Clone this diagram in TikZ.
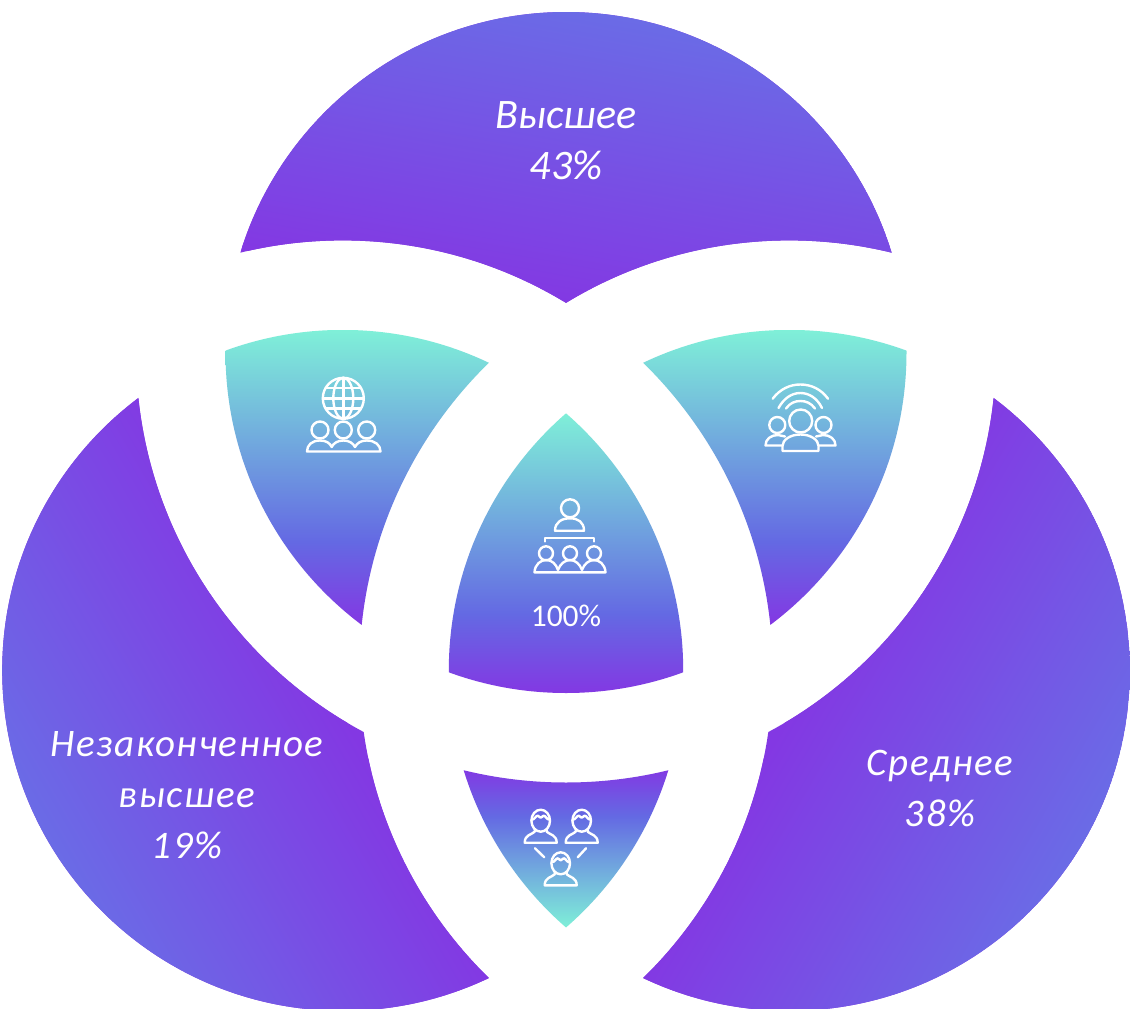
\documentclass[tikz,border=0pt]{standalone}
\usepackage{fontspec}
\setmainfont{Carlito}
\newfontfamily\spaced[LetterSpace=4]{Carlito}
\definecolor{pur}{HTML}{8338E3}
\definecolor{blu}{HTML}{6A6CE6}
\definecolor{blu2}{HTML}{6469E3}
\definecolor{teal1}{HTML}{7FF0D8}
\pgfdeclareverticalshading{tealtop}{100bp}{color(0bp)=(pur); color(25bp)=(pur); color(39bp)=(blu2); color(75bp)=(teal1); color(100bp)=(teal1)}
\pgfdeclareverticalshading{tealbot}{100bp}{color(0bp)=(teal1); color(25bp)=(teal1); color(60bp)=(blu2); color(75bp)=(pur); color(100bp)=(pur)}
\tikzset{
  icon/.style={draw=white,line width=2.4pt,line cap=round,line join=round},
  label/.style={text=white,align=center,inner sep=0pt},
  bigtext/.style={label,font=\fontsize{42}{51}\selectfont\itshape},
  lighttext/.style={label,font=\spaced\fontsize{39}{51}\selectfont\itshape},
}
\newcommand\outclip[1]{\clip (-300,-300) rectangle (1500,1400) (#1) circle[radius=430];}
\newcommand\hairperson[2]{%
  \draw[icon] (#1,#2) ellipse[x radius=9.3,y radius=11];
  \draw[icon] (#1-9,#2-1) .. controls (#1-6,#2-1) and (#1-5,#2-5) .. (#1-3,#2-5) .. controls (#1-2,#2-5) and (#1-1,#2-3) .. (#1,#2-3) .. controls (#1+1,#2-3) and (#1+2,#2-5) .. (#1+3,#2-5) .. controls (#1+5,#2-5) and (#1+6,#2-1) .. (#1+9,#2-1);
  \draw[icon] (#1-6,#2+9) -- (#1-6,#2+11) .. controls (#1-9,#2+14) and (#1-16,#2+14) .. (#1-16,#2+22) -- (#1+16,#2+22) .. controls (#1+16,#2+14) and (#1+9,#2+14) .. (#1+6,#2+11) -- (#1+6,#2+9);
}
\begin{document}
\begin{tikzpicture}[x=1pt,y=-1pt]
\useasboundingbox[fill=white] (0,0) rectangle (1130,1009);
\coordinate (T) at (566,352.5);
\coordinate (L) at (342.7,670.4);
\coordinate (R) at (789.3,670.4);
% top piece
\begin{scope}[even odd rule]
  \clip (T) circle[radius=340.5];
  \outclip{L}
  \outclip{R}
  \fill[pur] (T) circle[radius=341];
  \begin{scope}[transform canvas={shift={(T)},rotate=-10}]
    \shade[bottom color=pur,top color=blu] (-700,-45) rectangle (700,-345);
  \end{scope}
\end{scope}
% left piece
\begin{scope}[even odd rule]
  \clip (L) circle[radius=340.5];
  \outclip{T}
  \outclip{R}
  \fill[pur] (L) circle[radius=341];
  \begin{scope}[transform canvas={shift={(L)},rotate=120}]
    \shade[bottom color=pur,top color=blu] (-700,-22) rectangle (700,-345);
  \end{scope}
\end{scope}
% right piece
\begin{scope}[even odd rule]
  \clip (R) circle[radius=340.5];
  \outclip{T}
  \outclip{L}
  \fill[pur] (R) circle[radius=341];
  \begin{scope}[transform canvas={shift={(R)},rotate=-120}]
    \shade[bottom color=pur,top color=blu] (-700,-22) rectangle (700,-345);
  \end{scope}
\end{scope}
% upper left lens
\begin{scope}[even odd rule]
  \clip (L) circle[radius=340.5];
  \clip (T) circle[radius=340.5];
  \outclip{R}
  \shade[shading=tealtop] (150,330) rectangle (550,624);
\end{scope}
% upper right lens
\begin{scope}[even odd rule]
  \clip (R) circle[radius=340.5];
  \clip (T) circle[radius=340.5];
  \outclip{L}
  \shade[shading=tealtop] (600,330) rectangle (1000,624);
\end{scope}
% centre
\begin{scope}
  \clip (L) circle[radius=340.5];
  \clip (R) circle[radius=340.5];
  \clip (T) circle[radius=340.5];
  \shade[shading=tealtop] (400,412) rectangle (730,693);
\end{scope}
% bottom lens
\begin{scope}[even odd rule]
  \clip (L) circle[radius=340.5];
  \clip (R) circle[radius=340.5];
  \outclip{T}
  \shade[shading=tealbot] (400,928) rectangle (730,768);
\end{scope}
% texts
\node[bigtext] (top) at (566,141) {Высшее\\43\%};
\node[lighttext] (left) at (187,795) {Незаконченное\\высшее\\19\%};
\node[lighttext] (right) at (940,788) {Среднее\\38\%};
\node[label,font=\fontsize{31.5}{32}\selectfont] (pct) at (566,616) {100\%};
% globe icon
\draw[icon] (343.3,398.3) circle[radius=20.5];
\draw[icon] (343.3,398.3) ellipse[x radius=10,y radius=20.5];
\draw[icon] (343.3,377.8) -- (343.3,418.8);
\draw[icon] (325.5,388) -- (361,388);
\draw[icon] (323,398.3) -- (363.8,398.3);
\draw[icon] (325.5,408.5) -- (361,408.5);
\foreach \x in {320,343.3,366.7} \draw[icon] (\x,430) circle[radius=8.5];
\draw[icon] (307,451.5) .. controls (307,445) and (312,440.5) .. (320,440.5) .. controls (326,440.5) and (330,443) .. (331.7,447) .. controls (333.5,443) and (338,440.5) .. (343.3,440.5) .. controls (349,440.5) and (353,443) .. (355,447) .. controls (357,443) and (361,440.5) .. (366.7,440.5) .. controls (375,440.5) and (380.5,445) .. (380.5,451.5) -- cycle;
% wifi people icon
\draw[icon] (772.7,398.7) .. controls (780,389) and (790,384.5) .. (800.3,384.5) .. controls (811,384.5) and (821,389) .. (828,398.7);
\draw[icon] (778.5,408) .. controls (784,398) and (792,393) .. (800.3,393) .. controls (809,393) and (817,398) .. (822,408);
\draw[icon] (786,408.5) .. controls (790,403) and (795,401) .. (800.3,401) .. controls (806,401) and (811,403) .. (815,408.5);
\draw[icon] (800.7,421) circle[radius=11.5];
\draw[icon] (782.5,451) -- (782.5,446) .. controls (782.5,440) and (790,434.5) .. (800.5,434.5) .. controls (811,434.5) and (818.5,440) .. (818.5,446) -- (818.5,451) -- cycle;
\draw[icon] (777.3,425) circle[radius=8];
\draw[icon] (823.5,425) circle[radius=8];
\draw[icon] (782,445.5) -- (765.5,445.5) .. controls (765.5,439) and (771,435) .. (778,435) -- (785,436.5);
\draw[icon] (819,445.5) -- (835.5,445.5) .. controls (835.5,439) and (830,435) .. (823,435) -- (816,436.5);
% hierarchy icon
\draw[icon] (570,508.3) circle[radius=9];
\draw[icon] (555,530.7) .. controls (555,522) and (562,518.3) .. (570,518.3) .. controls (578,518.3) and (584,522) .. (584,530.7) -- cycle;
\draw[icon] (545,541.5) -- (545,537.7) -- (594,537.7) -- (594,541.5);
\foreach \x in {546,570,594} \draw[icon] (\x,553.3) circle[radius=7];
\draw[icon] (534.5,572.3) .. controls (535,564) and (541,560) .. (546,560) .. controls (552,560) and (556,564) .. (558,570) .. controls (560,564) and (565,560) .. (570,560) .. controls (575,560) and (580,564) .. (582,570) .. controls (584,564) and (589,560) .. (594,560) .. controls (599,560) and (605,564) .. (605.5,572.3) -- cycle;
% team icon
\hairperson{540.7}{820.7}
\hairperson{581.7}{820.7}
\hairperson{560.7}{863.3}
\draw[icon] (535,848.3) -- (544.3,857.3);
\draw[icon] (586,848.3) -- (577.7,857.3);
\end{tikzpicture}
\end{document}
